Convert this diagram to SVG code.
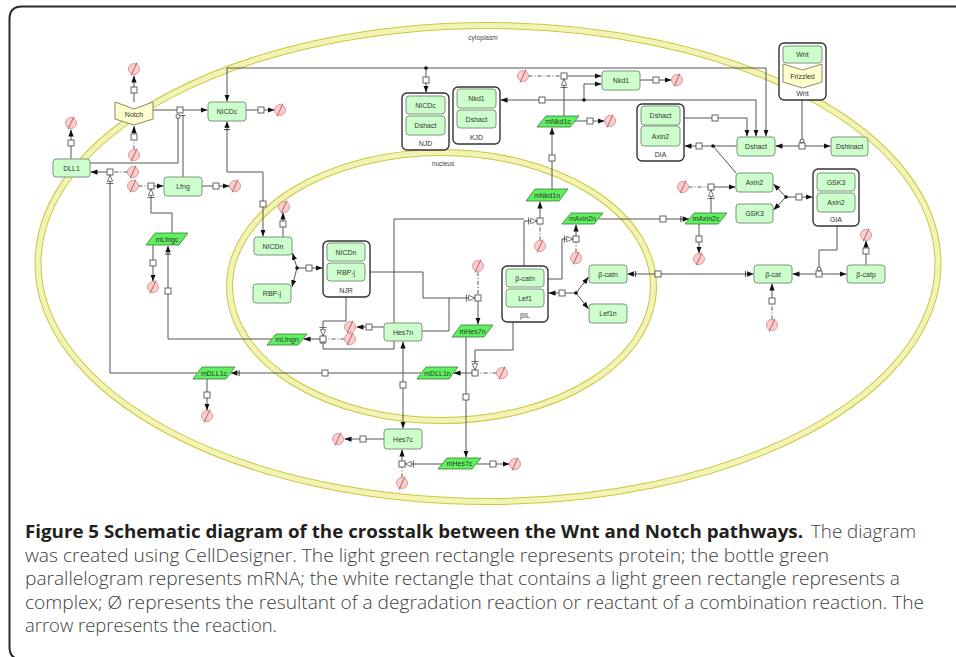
<svg xmlns="http://www.w3.org/2000/svg" width="956" height="657" viewBox="0 0 956 657">
<style>
.p{fill:#ccffcc;stroke:#7f947f;stroke-width:1}
.c{fill:#fff;stroke:#333;stroke-width:1.4}
.m{fill:#5ef05e;stroke:#3a7a3a;stroke-width:0.8}
.r{fill:#ffffcc;stroke:#8a8a6a;stroke-width:1}
.t{font-family:"Liberation Sans",Arial,sans-serif;font-size:7px;fill:#333;text-anchor:middle}
.cl{font-family:"Liberation Sans",Arial,sans-serif;font-size:6.5px;fill:#444;text-anchor:middle}
.b1{fill:none;stroke:#c9c93a;stroke-width:7}
.b2{fill:none;stroke:#f3f3b8;stroke-width:5}
.sq{fill:#fff;stroke:#555;stroke-width:0.9}
.dd{stroke-dasharray:4,2,1,2}
.cap{font-family:"Open Sans","Noto Sans",sans-serif;font-size:18.5px;font-weight:300;fill:#404040}
.capb{font-family:"Open Sans","Noto Sans",sans-serif;font-size:18.5px;font-weight:bold;fill:#231f20}
</style>
<defs>
<marker id="a" viewBox="0 0 8 6" refX="8" refY="3" markerWidth="7" markerHeight="5.5" markerUnits="userSpaceOnUse" orient="auto"><path d="M0,0L8,3L0,6z" fill="#111" stroke="none"/></marker>
<marker id="ab" viewBox="0 0 10 7" refX="10" refY="3.5" markerWidth="9" markerHeight="6.5" markerUnits="userSpaceOnUse" orient="auto"><path d="M3,0.5L10,3.5L3,6.5z" fill="#111" stroke="none"/><path d="M1,0V7" stroke="#111" stroke-width="0.9"/></marker>
<marker id="tr" viewBox="0 0 12 10" refX="11" refY="5" markerWidth="11" markerHeight="9" markerUnits="userSpaceOnUse" orient="auto"><path d="M4,2L11,5L4,8z" fill="#fff" stroke="#444" stroke-width="0.8"/><path d="M1.5,1V9" stroke="#444" stroke-width="0.9"/></marker>
<g id="nul"><circle r="5.5" fill="#ffcccc" stroke="#c98a8a" stroke-width="0.8"/><path d="M-3,6.5L3,-6.5" stroke="#a05a5a" stroke-width="0.9"/></g>
<rect id="s" x="-3" y="-3" width="6" height="6" class="sq"/>
</defs>
<rect width="956" height="657" fill="#fff"/>
<path d="M960,6.5H22Q9.5,6.5 9.5,19V647Q9.5,659.5 22,659.5H960" fill="none" stroke="#2a2a2a" stroke-width="2"/>
<g id="compartments">
<ellipse class="b1" cx="488" cy="263.5" rx="450" ry="238"/>
<ellipse class="b2" cx="488" cy="263.5" rx="450" ry="238"/>
<ellipse class="b1" cx="441.5" cy="286.5" rx="212" ry="134"/>
<ellipse class="b2" cx="441.5" cy="286.5" rx="212" ry="134"/>
<text class="cl" x="483" y="40">cytoplasm</text>
<text class="cl" x="443" y="166">nucleus</text>
</g>
<g id="connectors" fill="none" stroke="#555" stroke-width="1">
<path d="M134,102V93"/><path d="M134,87V75.5" marker-end="url(#a)"/>
<path class="dd" d="M134,149.5V140"/><path d="M134,134V126" marker-end="url(#a)"/>
<path d="M71,159V146"/><path d="M71,140V129.5" marker-end="url(#a)"/>
<path d="M153,110H177"/><path d="M183,110H207.5" marker-end="url(#a)"/>
<path d="M90,163H178V118.5"/><circle cx="178" cy="116.5" r="2" fill="#fff"/>
<path d="M183,177V115.5"/><path d="M180.5,115.5H185.5"/>
<path d="M246,110H258"/><path d="M264,110H274.5" marker-end="url(#a)"/>
<path d="M263,201V172H227V121.5" marker-end="url(#ab)"/><path d="M263,207V236.5" marker-end="url(#a)"/>
<path d="M283,237V227"/><path d="M283,221V212.5" marker-end="url(#a)"/>
<path d="M426,68H227V101.5" marker-end="url(#a)"/><path d="M426,68H766V136.5" marker-end="url(#a)"/>
<path d="M426,68V77"/><path d="M426,83V92.5" marker-end="url(#a)"/>
<path d="M584,100H756V136.5" marker-end="url(#a)"/><path d="M584,100V84H601.5" marker-end="url(#a)"/>
<path d="M584,100H545"/><path d="M539,100H500.5" marker-end="url(#a)"/>
<path class="dd" d="M528.5,76H561"/><path d="M567,76H601.5" marker-end="url(#a)"/>
<path d="M564,116V79" marker-end="url(#tr)"/>
<path d="M640,80H653"/><path d="M659,80H671.5" marker-end="url(#a)"/>
<path d="M552,189V161"/><path d="M552,155V127.5" marker-end="url(#a)"/>
<path d="M575,121H587"/><path d="M593,121H604.5" marker-end="url(#a)"/>
<path class="dd" d="M540,240.5V224"/><path d="M540,218V201.5" marker-end="url(#a)"/>
<path d="M394,323V219H524"/><path d="M524,266V221H537" marker-end="url(#tr)"/>
<path class="dd" d="M576,252.5V242"/><path d="M576,236V224.5" marker-end="url(#a)"/>
<path d="M548,279H562V239H573" marker-end="url(#tr)"/>
<path d="M599,219H660"/><path d="M666,219H689" marker-end="url(#ab)"/>
<path d="M699,224V236"/><path d="M699,242V253.5" marker-end="url(#a)"/>
<path class="dd" d="M688.5,187H708"/><path d="M714,187H735.5" marker-end="url(#a)"/>
<path d="M711,213V190" marker-end="url(#tr)"/>
<path d="M786,197L773.5,184" marker-end="url(#a)"/><path d="M786,197L773.5,210" marker-end="url(#a)"/>
<path d="M786,197H796"/><path d="M802,197H812.5" marker-end="url(#a)"/>
<path d="M713,146H702"/><path d="M696,146H684.5" marker-end="url(#a)"/>
<path d="M713,146H737"/><path d="M713,146L736,173"/>
<path d="M680,118H712"/><path d="M718,118H747V136.5" marker-end="url(#a)"/>
<path d="M799,146H775.5" marker-end="url(#a)"/><path d="M805,146H830.5" marker-end="url(#a)"/>
<path d="M802,100V139"/><circle cx="802" cy="141" r="2" fill="#fff"/>
<path d="M816,274H792.5" marker-end="url(#a)"/><path d="M822,274H846.5" marker-end="url(#a)"/>
<path d="M837,226V250H819V267"/><circle cx="819" cy="269" r="2" fill="#fff"/>
<path d="M866,265V254"/><path d="M866,248V240.5" marker-end="url(#a)"/>
<path class="dd" d="M772,319.5V304"/><path d="M772,298V283.5" marker-end="url(#a)"/>
<path d="M655,274H627.5" marker-end="url(#ab)"/><path d="M661,274H753.5" marker-end="url(#ab)"/>
<path d="M576,293L588.5,277" marker-end="url(#a)"/><path d="M576,293L588.5,309" marker-end="url(#a)"/>
<path d="M576,293H565"/><path d="M559,293H548.5" marker-end="url(#a)"/>
<path d="M297,268L292.5,253" marker-end="url(#a)"/><path d="M297,268L292,287" marker-end="url(#a)"/>
<path d="M297,268H306"/><path d="M312,268H322.5" marker-end="url(#a)"/>
<path class="dd" d="M478,272V295"/><path d="M478,301V324.5" marker-end="url(#a)"/>
<path d="M365,272H423V298H475" marker-end="url(#tr)"/><path d="M422,331H449V298"/>
<path d="M384,327H372"/><path d="M366,327H356.5" marker-end="url(#a)"/>
<path class="dd" d="M344.5,339H326"/><path d="M320,339H303.5" marker-end="url(#a)"/>
<path d="M346,297V321H323V336" marker-end="url(#tr)"/>
<path d="M394,341V349H323V342.5"/><path d="M320,343H326"/>
<path d="M271.5,339H168V294"/><path d="M168,288V246" marker-end="url(#ab)"/>
<path d="M153,245V260"/><path d="M153,266V281.5" marker-end="url(#a)"/>
<path class="dd" d="M138.5,186H148"/><path d="M154,186H163.5" marker-end="url(#a)"/>
<path d="M172,233V213H151V189" marker-end="url(#tr)"/>
<path d="M202,186H213"/><path d="M219,186H229.5" marker-end="url(#a)"/>
<path class="dd" d="M127.5,172H113"/><path d="M107,172H90.5" marker-end="url(#a)"/>
<path d="M197,373H110V175" marker-end="url(#tr)"/>
<path d="M421,373H328"/><path d="M322,373H231" marker-end="url(#ab)"/>
<path d="M207,379V392"/><path d="M207,398V410.5" marker-end="url(#a)"/>
<path class="dd" d="M496.5,373H478"/><path d="M472,373H453.5" marker-end="url(#a)"/>
<path d="M513,322V350H475V370" marker-end="url(#tr)"/>
<path d="M403,382V341.5" marker-end="url(#a)"/><path d="M403,388V428.5" marker-end="url(#a)"/>
<path d="M466,337V394"/><path d="M466,400V457.5" marker-end="url(#a)"/>
<path d="M476.5,464H490"/><path d="M496,464H509.5" marker-end="url(#a)"/>
<path class="dd" d="M402,477.5V467"/><path d="M402,461V449.5" marker-end="url(#a)"/>
<path d="M442.5,464H405" marker-end="url(#tr)"/>
<path d="M384,439H366"/><path d="M360,439H344.5" marker-end="url(#a)"/>
<g fill="#111" stroke="none">
<circle cx="426" cy="68" r="1.8"/><circle cx="584" cy="100" r="1.8"/><circle cx="786" cy="197" r="1.8"/>
<circle cx="713" cy="146" r="1.8"/><circle cx="576" cy="293" r="1.8"/><circle cx="297" cy="268" r="1.8"/>
</g>
<g id="squares">
<use href="#s" x="134" y="90"/><use href="#s" x="134" y="137"/><use href="#s" x="71" y="143"/>
<use href="#s" x="180" y="110"/><use href="#s" x="261" y="110"/><use href="#s" x="263" y="204"/>
<use href="#s" x="283" y="224"/><use href="#s" x="426" y="80"/><use href="#s" x="542" y="100"/>
<use href="#s" x="564" y="76"/><use href="#s" x="656" y="80"/><use href="#s" x="552" y="158"/>
<use href="#s" x="590" y="121"/><use href="#s" x="540" y="221"/><use href="#s" x="576" y="239"/>
<use href="#s" x="663" y="219"/><use href="#s" x="699" y="239"/><use href="#s" x="711" y="187"/>
<use href="#s" x="799" y="197"/><use href="#s" x="699" y="146"/><use href="#s" x="715" y="118"/>
<use href="#s" x="802" y="146"/><use href="#s" x="819" y="274"/><use href="#s" x="866" y="251"/>
<use href="#s" x="772" y="301"/><use href="#s" x="658" y="274"/><use href="#s" x="562" y="293"/>
<use href="#s" x="309" y="268"/><use href="#s" x="478" y="298"/><use href="#s" x="369" y="327"/>
<use href="#s" x="323" y="339"/><use href="#s" x="168" y="291"/><use href="#s" x="153" y="263"/>
<use href="#s" x="151" y="186"/><use href="#s" x="216" y="186"/><use href="#s" x="110" y="172"/>
<use href="#s" x="325" y="373"/><use href="#s" x="207" y="395"/><use href="#s" x="475" y="373"/>
<use href="#s" x="403" y="385"/><use href="#s" x="466" y="397"/><use href="#s" x="493" y="464"/>
<use href="#s" x="402" y="464"/><use href="#s" x="363" y="439"/>
</g>
</g>
<g id="degraded">
<use href="#nul" x="134" y="69"/><use href="#nul" x="134" y="155"/><use href="#nul" x="71" y="123"/>
<use href="#nul" x="280" y="110"/><use href="#nul" x="133" y="172"/><use href="#nul" x="133" y="186"/>
<use href="#nul" x="235" y="186"/><use href="#nul" x="284" y="207"/><use href="#nul" x="153" y="287"/>
<use href="#nul" x="350" y="327"/><use href="#nul" x="350" y="339"/><use href="#nul" x="207" y="416"/>
<use href="#nul" x="338" y="439"/><use href="#nul" x="402" y="483"/><use href="#nul" x="515" y="464"/>
<use href="#nul" x="478" y="266"/><use href="#nul" x="502" y="373"/><use href="#nul" x="540" y="246"/>
<use href="#nul" x="576" y="258"/><use href="#nul" x="523" y="76"/><use href="#nul" x="677" y="80"/>
<use href="#nul" x="610" y="121"/><use href="#nul" x="683" y="187"/><use href="#nul" x="699" y="259"/>
<use href="#nul" x="866" y="235"/><use href="#nul" x="772" y="325"/>
</g>
<g id="node-Notch"><path class="r" d="M115,102L134,109L153,102V119L134,125L115,119z"/><text class="t" x="134" y="117">Notch</text></g>
<g id="node-DLL1"><rect class="p" x="53" y="159" width="37" height="18" rx="3"/><text class="t" x="71.5" y="170.5">DLL1</text></g>
<g id="node-NICDc"><rect class="p" x="208" y="102" width="38" height="19" rx="3"/><text class="t" x="227" y="114">NICDc</text></g>
<g id="node-Lfng"><rect class="p" x="164" y="177" width="38" height="19" rx="3"/><text class="t" x="183" y="189">Lfng</text></g>
<g id="node-NICDn"><rect class="p" x="254" y="237" width="38" height="18" rx="3"/><text class="t" x="273" y="248.5">NICDn</text></g>
<g id="node-RBPj"><rect class="p" x="253" y="284" width="38" height="19" rx="3"/><text class="t" x="272" y="296">RBP-j</text></g>
<g id="node-Hes7n"><rect class="p" x="384" y="323" width="38" height="18" rx="3"/><text class="t" x="403" y="334.5">Hes7n</text></g>
<g id="node-Hes7c"><rect class="p" x="384" y="429" width="38" height="20" rx="3"/><text class="t" x="403" y="441.5">Hes7c</text></g>
<g id="node-Nkd1"><rect class="p" x="602" y="71" width="38" height="19" rx="3"/><text class="t" x="621" y="83">Nkd1</text></g>
<g id="node-Dshact"><rect class="p" x="737" y="137" width="38" height="19" rx="3"/><text class="t" x="756" y="149">Dshact</text></g>
<g id="node-Dshinact"><rect class="p" x="831" y="137" width="37" height="19" rx="3"/><text class="t" x="849.5" y="149">Dshinact</text></g>
<g id="node-Axin2"><rect class="p" x="736" y="173" width="37" height="19" rx="3"/><text class="t" x="754.5" y="185">Axin2</text></g>
<g id="node-GSK3"><rect class="p" x="736" y="204" width="37" height="19" rx="3"/><text class="t" x="754.5" y="216">GSK3</text></g>
<g id="node-bcat"><rect class="p" x="754" y="265" width="38" height="18" rx="3"/><text class="t" x="773" y="276.5">β-cat</text></g>
<g id="node-bcatp"><rect class="p" x="847" y="265" width="38" height="18" rx="3"/><text class="t" x="866" y="276.5">β-catp</text></g>
<g id="node-bcatn"><rect class="p" x="589" y="265" width="38" height="18" rx="3"/><text class="t" x="608" y="276.5">β-catn</text></g>
<g id="node-Lef1n"><rect class="p" x="589" y="304" width="38" height="19" rx="3"/><text class="t" x="608" y="316">Lef1n</text></g>
<g id="node-NJD"><rect class="c" x="402" y="93" width="47" height="57" rx="5"/>
<rect class="p" x="406" y="96" width="39" height="18" rx="3"/><text class="t" x="425.5" y="107.5">NICDc</text>
<rect class="p" x="406" y="116" width="39" height="19" rx="3"/><text class="t" x="425.5" y="128">Dshact</text>
<text class="t" x="425.5" y="146">NJD</text></g>
<g id="node-KJD"><rect class="c" x="453" y="87" width="47" height="57" rx="5"/>
<rect class="p" x="457" y="89" width="39" height="19" rx="3"/><text class="t" x="476.5" y="101">Nkd1</text>
<rect class="p" x="457" y="110" width="39" height="18" rx="3"/><text class="t" x="476.5" y="121.5">Dshact</text>
<text class="t" x="476.5" y="140">KJD</text></g>
<g id="node-DIA"><rect class="c" x="637" y="104" width="47" height="57" rx="5"/>
<rect class="p" x="641" y="106" width="39" height="19" rx="3"/><text class="t" x="660.5" y="118">Dshact</text>
<rect class="p" x="641" y="126" width="39" height="20" rx="3"/><text class="t" x="660.5" y="138.5">Axin2</text>
<text class="t" x="660.5" y="157">DIA</text></g>
<g id="node-Wnt"><rect class="c" x="779" y="43" width="47" height="57" rx="5"/>
<rect class="p" x="783" y="46" width="39" height="17" rx="3"/><text class="t" x="802.5" y="57">Wnt</text>
<path class="r" d="M783,64L802.5,70L822,64V82L802.5,88L783,82z"/><text class="t" x="802.5" y="79">Frizzled</text>
<text class="t" x="802.5" y="96">Wnt</text></g>
<g id="node-GIA"><rect class="c" x="813" y="169" width="46" height="57" rx="5"/>
<rect class="p" x="817" y="173" width="38" height="18" rx="3"/><text class="t" x="836" y="184.5">GSK3</text>
<rect class="p" x="817" y="193" width="38" height="19" rx="3"/><text class="t" x="836" y="205">Axin2</text>
<text class="t" x="836" y="222">GIA</text></g>
<g id="node-NJR"><rect class="c" x="323" y="241" width="47" height="56" rx="5"/>
<rect class="p" x="327" y="243" width="38" height="18" rx="3"/><text class="t" x="346" y="254.5">NICDn</text>
<rect class="p" x="327" y="263" width="38" height="18" rx="3"/><text class="t" x="346" y="274.5">RBP-j</text>
<text class="t" x="346" y="292.5">NJR</text></g>
<g id="node-bIL"><rect class="c" x="502" y="266" width="46" height="56" rx="5"/>
<rect class="p" x="506" y="269" width="38" height="18" rx="3"/><text class="t" x="525" y="280.5">β-catn</text>
<rect class="p" x="506" y="289" width="38" height="18" rx="3"/><text class="t" x="525" y="300.5">Lef1</text>
<text class="t" x="525" y="317.5">βIL</text></g>
<g id="node-mLfngc"><path class="m" d="M155,233H188L179,245H146z"/><text class="t" x="167" y="241.5">mLfngc</text></g>
<g id="node-mLfngn"><path class="m" d="M276,334H307L298,345H267z"/><text class="t" x="287" y="342">mLfngn</text></g>
<g id="node-mDLL1c"><path class="m" d="M202,367H235L226,379H193z"/><text class="t" x="214" y="375.5">mDLL1c</text></g>
<g id="node-mDLL1n"><path class="m" d="M426,367H458L449,379H417z"/><text class="t" x="437.5" y="375.5">mDLL1n</text></g>
<g id="node-mHes7n"><path class="m" d="M461,325H493L484,337H452z"/><text class="t" x="472.5" y="333.5">mHes7n</text></g>
<g id="node-mHes7c"><path class="m" d="M447,458H481L472,469H438z"/><text class="t" x="459.5" y="466">mHes7c</text></g>
<g id="node-mNkd1c"><path class="m" d="M546,116H579L570,127H537z"/><text class="t" x="558" y="124">mNkd1c</text></g>
<g id="node-mNkd1n"><path class="m" d="M535,189H568L559,201H526z"/><text class="t" x="547" y="197.5">mNkd1n</text></g>
<g id="node-mAxin2n"><path class="m" d="M571,213H603L594,224H562z"/><text class="t" x="582.5" y="221">mAxin2n</text></g>
<g id="node-mAxin2c"><path class="m" d="M694,213H727L718,224H685z"/><text class="t" x="706" y="221">mAxin2c</text></g>
<g id="caption">
<text class="capb" x="25" y="538" textLength="778" lengthAdjust="spacingAndGlyphs">Figure 5 Schematic diagram of the crosstalk between the Wnt and Notch pathways.</text>
<text class="cap" x="811" y="538" textLength="105" lengthAdjust="spacingAndGlyphs">The diagram</text>
<text class="cap" x="25" y="561.5" textLength="804" lengthAdjust="spacingAndGlyphs">was created using CellDesigner. The light green rectangle represents protein; the bottle green</text>
<text class="cap" x="25" y="585" textLength="875" lengthAdjust="spacingAndGlyphs">parallelogram represents mRNA; the white rectangle that contains a light green rectangle represents a</text>
<text class="cap" x="25" y="608.5" textLength="899" lengthAdjust="spacingAndGlyphs">complex; Ø represents the resultant of a degradation reaction or reactant of a combination reaction. The</text>
<text class="cap" x="25" y="632" textLength="252" lengthAdjust="spacingAndGlyphs">arrow represents the reaction.</text>
</g>
</svg>
